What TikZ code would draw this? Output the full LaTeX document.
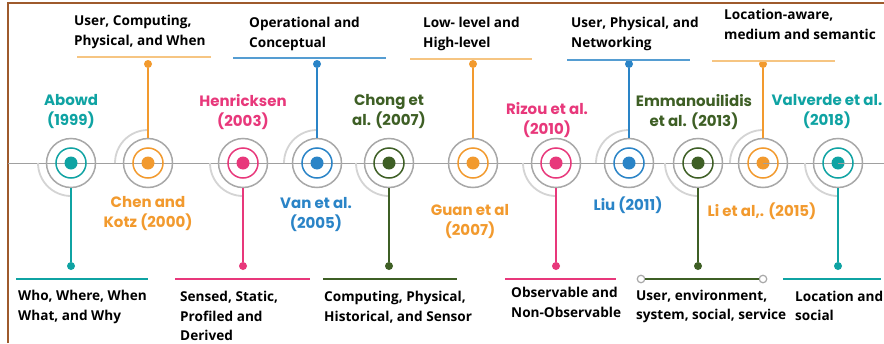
\documentclass[tikz,border=0pt]{standalone}
\usepackage{fontspec}
\newfontfamily\geo{Poppins}
\newfontfamily\txtf{Open Sans}
\definecolor{cteal}{HTML}{0FA3A3}
\definecolor{corange}{HTML}{F29A2E}
\definecolor{clorange}{HTML}{F6C582}
\definecolor{cpink}{HTML}{E8387B}
\definecolor{cblue}{HTML}{2A84C7}
\definecolor{cgreen}{HTML}{3E5F25}
\definecolor{ringgray}{HTML}{A8A8A8}
\definecolor{arcgray}{HTML}{D4D4D4}
\definecolor{tlgray}{HTML}{A0A0A0}
\definecolor{framebrown}{HTML}{9E5A2C}
\begin{document}
\begin{tikzpicture}[x=1pt,y=-1pt,
  outring/.style={circle,draw=ringgray,line width=1.5pt,minimum size=49pt,inner sep=0pt},
  inring/.style={circle,draw=#1,line width=1.5pt,minimum size=30pt,inner sep=0pt},
  core/.style={circle,fill=#1,minimum size=13pt,inner sep=0pt},
  enddot/.style={circle,fill=#1,minimum size=8pt,inner sep=0pt},
  opendot/.style={circle,draw=ringgray,fill=white,line width=1.2pt,minimum size=7.5pt,inner sep=0pt},
  conn/.style={draw=#1,line width=1.1pt},
  bar/.style={draw=#1,line width=1.2pt},
  arcst/.style={draw=arcgray,line width=1.8pt},
  tline/.style={draw=tlgray,line width=1pt},
  lbl/.style={font=\geo\bfseries\fontsize{15}{20}\selectfont,align=center,text=#1,inner sep=0pt},
  desc/.style={font=\txtf\bfseries\fontsize{13.6}{19.5}\selectfont,align=left,anchor=west,text=black,inner sep=0pt}]
\useasboundingbox (0,0) rectangle (884,343);
\fill[white] (0,0) rectangle (884,343);
% frame
\coordinate (f0) at (8,343);
\coordinate (f1) at (8,3);
\coordinate (f2) at (884,3);
\draw[framebrown,line width=2pt] (f0) -- (f1) -- (f2);
% timeline
\coordinate (tl0) at (8,163);
\coordinate (tl1) at (884,163);
\draw[tline] (tl0) -- (tl1);
% partial arcs
\foreach \x in {71,243,389,556,698,838}
  \draw[arcst] (\x,163) ++(180:33pt) arc[start angle=180,end angle=270,radius=33pt];
\foreach \x in {148,317,629,763}
  \draw[arcst] (\x,163) ++(180:33pt) arc[start angle=180,end angle=90,radius=33pt];
% circles
\foreach \n/\x/\col in {1/71/cteal,2/148/corange,3/243/cpink,4/317/cblue,5/389/cgreen,6/473/corange,7/556/cpink,8/629/cblue,9/698/cgreen,10/763/corange,11/838/cteal}{
  \node[outring] (c\n) at (\x,163) {};
  \node[inring=\col] (r\n) at (\x,163) {};
  \node[core=\col] (k\n) at (\x,163) {};
}
\draw[tline] (k10.center) -- (k10.east);
\draw[tline] (k11.center) -- (k11.east);
% downward connectors
\foreach \n/\x/\col in {1/71/cteal,3/243/cpink,5/389/cgreen,7/556/cpink,9/698/cgreen,11/838/cteal}{
  \node[enddot=\col] (e\n) at (\x,266) {};
  \draw[conn=\col] (c\n.south) -- (e\n);
}
% upward connectors
\foreach \n/\x/\col in {2/148/corange,4/317/cblue,6/473/corange,8/629/cblue,10/763/corange}{
  \node[enddot=\col] (e\n) at (\x,64) {};
  \draw[conn=\col] (c\n.north) -- (e\n);
}
% bottom bars
\foreach \n/\a/\b/\col in {1/16/148/cteal,3/175/310/cpink,5/323/457/cgreen,7/505/616/cpink,11/783/881/cteal}{
  \coordinate (b\n a) at (\a,279);
  \coordinate (b\n b) at (\b,279);
  \draw[bar=\col] (b\n a) -- (b\n b);
}
\node[opendot] (o9a) at (641,279) {};
\node[opendot] (o9b) at (763,279) {};
\draw[bar=cgreen] (o9a) -- (o9b);
% top bars
\foreach \n/\a/\b/\y/\col in {2/77/211/57/clorange,4/233/386/58/cblue!80,6/410/532/59/clorange,8/567/690/60/cblue!80,10/712/835/61/clorange}{
  \coordinate (b\n a) at (\a,\y);
  \coordinate (b\n b) at (\b,\y);
  \draw[bar=\col] (b\n a) -- (b\n b);
}
% colored labels
\node[lbl=cteal] (t1) at (71,112) {Abowd\\(1999)};
\node[lbl=corange] (t2) at (148,214) {Chen and\\Kotz (2000)};
\node[lbl=cpink] (t3) at (243,112) {Henricksen\\(2003)};
\node[lbl=cblue] (t4) at (316,215) {Van et al.\\(2005)};
\node[lbl=cgreen] (t5) at (389,112) {Chong et\\al. (2007)};
\node[lbl=corange] (t6) at (470,222) {Guan et al\\(2007)};
\node[lbl=cpink] (t7) at (547,120) {Rizou et al.\\(2010)};
\node[lbl=cblue] (t8) at (628,205) {Liu (2011)};
\node[lbl=cgreen] (t9) at (694,112) {Emmanouilidis\\et al. (2013)};
\node[lbl=corange] (t10) at (762,211) {Li et al,. (2015)};
\node[lbl=cteal] (t11) at (827,112) {Valverde et al.\\(2018)};
% descriptions
\node[desc] (d2) at (74,32) {User, Computing,\\Physical, and When};
\node[desc] (d4) at (249,34) {Operational and\\Conceptual};
\node[desc] (d6) at (423,34) {Low- level and\\High-level};
\node[desc] (d8) at (571,34) {User, Physical, and\\Networking};
\node[desc] (d10) at (724,24.5) {Location-aware,\\medium and semantic};
\node[desc] (d1) at (18,307) {Who, Where, When\\What, and Why};
\node[desc] (d3) at (180,316) {Sensed, Static,\\Profiled and\\Derived};
\node[desc] (d5) at (324,307) {Computing, Physical,\\Historical, and Sensor};
\node[desc] (d7) at (511,302.5) {Observable and\\Non-Observable};
\node[desc] (d9) at (636,306.5) {User, environment,\\system, social, service};
\node[desc] (d11) at (795,306) {Location and\\social};
\end{tikzpicture}
\end{document}
